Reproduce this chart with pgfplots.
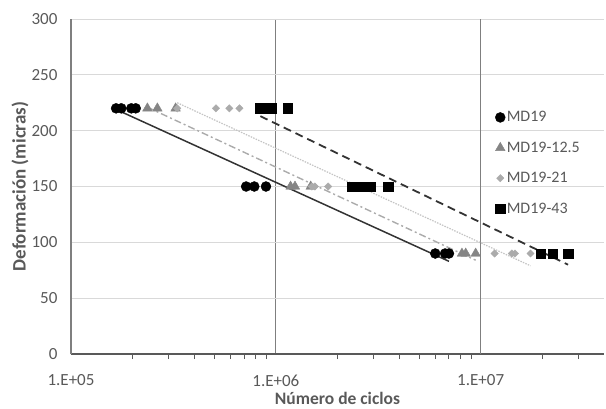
\documentclass[border=0pt]{standalone}
\usepackage{pgfplots}
\pgfplotsset{compat=1.18}
\usepackage{fontspec}
\setmainfont{Carlito}
\definecolor{txtgray}{HTML}{595959}
\definecolor{gridgray}{HTML}{D9D9D9}
\definecolor{axisgray}{HTML}{7F7F7F}
\definecolor{midgray}{HTML}{858585}
\definecolor{lightgr}{HTML}{ABABAB}
\definecolor{dotgr}{HTML}{C4C4C4}
\definecolor{linedark}{HTML}{333333}

\begin{document}
\begin{tikzpicture}
\begin{axis}[
  scale only axis,
  width=533pt, height=335pt,
  xmode=log,
  xmin=1e5, xmax=4e7,
  ymin=0, ymax=300,
  ytick={0,50,...,300},
  xtick={1e5,1e6},
  xticklabels={1.E+05,1.E+06},
  extra x ticks={1e7},
  extra x tick labels={1.E+07},
  extra x tick style={grid style={draw=black!88, line width=1.2pt}},
  minor xtick={2e5,3e5,4e5,5e5,6e5,7e5,8e5,9e5,2e6,3e6,4e6,5e6,6e6,7e6,8e6,9e6,2e7,3e7},
  axis lines=left,
  axis line style={-},
  x axis line style={draw=txtgray, line width=1.3pt},
  y axis line style={draw=axisgray, line width=1.2pt},
  tick align=outside,
  major tick length=0pt,
  minor tick length=5pt,
  minor tick style={draw=txtgray, line width=1pt},
  xmajorgrids, ymajorgrids,
  major grid style={draw=gridgray, line width=0.9pt},
  major x grid style={draw=axisgray, line width=1.2pt},
  /pgf/number format/assume math mode=true,
  ticklabel style={font=\fontsize{17}{20}\selectfont, text=txtgray},
  xticklabel style={yshift=-17pt},
  yticklabel style={xshift=-10pt},
  xlabel={Número de ciclos},
  ylabel={Deformación (micras)},
  xlabel style={font=\bfseries\fontsize{17.5}{20}\selectfont, text=txtgray,
    at={(axis description cs:0.5,-0.134)}, anchor=center},
  ylabel style={font=\bfseries\fontsize{19}{22}\selectfont, text=txtgray,
    at={(axis description cs:-0.0955,0.5)}, anchor=center},
  legend style={draw=none, fill=none, at={(rel axis cs:0.79,0.735)}, anchor=north west,
    font=\fontsize{16}{19}\selectfont, text=txtgray, row sep=15.5pt,
    nodes={inner sep=1.5pt}},
  legend cell align=left,
  legend image code/.code={\draw[mark repeat=2,mark phase=2,#1] plot coordinates {(0pt,0pt)(5pt,0pt)(10pt,0pt)};},
]
% MD19
\addplot[only marks, mark=*, mark size=5pt, draw=black, fill=black]
  coordinates {(1.66e5,220)(1.76e5,220)(1.97e5,220)(2.07e5,220)
               (7.16e5,150)(7.85e5,150)(8.95e5,150)
               (6.0e6,90)(6.7e6,90)(7.0e6,90)};
\addlegendentry{MD19}
% MD19-12.5
\addplot[only marks, mark=triangle*, mark size=5.5pt, draw=midgray, fill=midgray]
  coordinates {(2.36e5,220)(2.64e5,220)(3.24e5,220)
               (1.18e6,150)(1.24e6,150)(1.48e6,150)
               (8.1e6,90)(8.45e6,90)(9.45e6,90)};
\addlegendentry{MD19-12.5}
% MD19-21
\addplot[only marks, mark=square*, mark size=2.6pt, mark options={rotate=45}, draw=lightgr, fill=lightgr]
  coordinates {(3.3e5,220)(5.1e5,220)(5.93e5,220)(6.64e5,220)
               (1.5e6,150)(1.55e6,150)(1.8e6,150)
               (1.17e7,90)(1.42e7,90)(1.47e7,90)(1.75e7,90)};
\addlegendentry{MD19-21}
% MD19-43
\addplot[only marks, mark=square*, mark size=4.7pt, draw=black, fill=black]
  coordinates {(8.4e5,220)(9.5e5,220)(1.14e6,220)
               (2.35e6,150)(2.62e6,150)(2.9e6,150)(3.53e6,150)
               (1.96e7,90)(2.24e7,90)(2.67e7,90)};
\addlegendentry{MD19-43}
% logarithmic trend lines
\addplot[forget plot, no marks, draw=linedark, line width=1.5pt]
  coordinates {(1.66e5,219)(7.0e6,83)};
\addplot[forget plot, no marks, draw=lightgr, line width=1.4pt, dash pattern=on 7pt off 3pt on 2pt off 3pt]
  coordinates {(2.36e5,221)(9.45e6,84)};
\addplot[forget plot, no marks, draw=dotgr, line width=1.2pt, dash pattern=on 1.5pt off 1.2pt]
  coordinates {(3.3e5,225)(1.75e7,79)};
\addplot[forget plot, no marks, draw=linedark, line width=1.8pt, dash pattern=on 8pt off 5pt]
  coordinates {(8.4e5,213)(2.67e7,80)};
\end{axis}
\pgfresetboundingbox
\path[use as bounding box] ([shift={(-71pt,-54pt)}]current axis.south west) rectangle ++(606pt,408pt);
\end{tikzpicture}
\end{document}
